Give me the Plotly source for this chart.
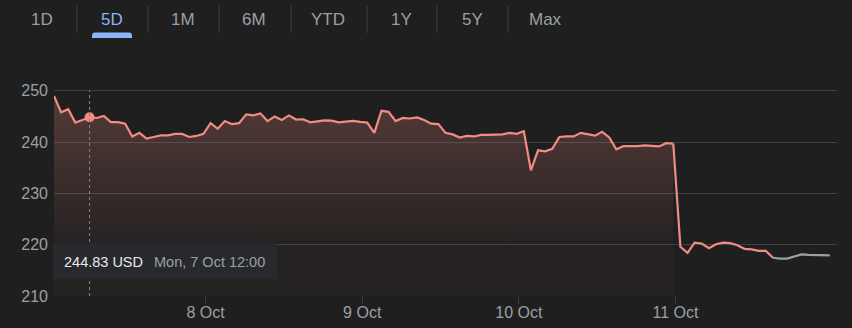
import plotly.graph_objects as go
import pandas as pd

# ---------------- data ----------------
days = ["2024-10-07", "2024-10-08", "2024-10-09", "2024-10-10", "2024-10-11"]
day_labels = ["7 Oct", "8 Oct", "9 Oct", "10 Oct", "11 Oct"]
slot_times = ["09:30", "10:00", "10:30", "11:00", "11:30", "12:00", "12:30", "13:00",
              "13:30", "14:00", "14:30", "15:00", "15:30", "16:00", "16:30", "17:00",
              "17:30", "18:00", "18:30", "19:00", "19:30", "20:00"]

oct7 = [249.0, 245.8, 246.4, 243.8, 244.3, 244.83, 244.7, 245.1, 243.9, 243.9, 243.6,
        241.1, 241.8, 240.7, 241.0, 241.3, 241.3, 241.6, 241.6, 241.0, 241.2, 241.6]
oct8 = [243.7, 242.6, 244.1, 243.5, 243.7, 245.4, 245.2, 245.6, 244.1, 245.0, 244.3,
        245.2, 244.4, 244.45, 243.86, 244.12, 244.25, 244.19, 243.86, 243.99, 244.12, 243.93]
oct9 = [243.8, 241.8, 246.1, 245.9, 244.1, 244.7, 244.6, 244.8, 244.3, 243.6, 243.5,
        241.8, 241.5, 240.9, 241.2, 241.1, 241.4, 241.4, 241.5, 241.5, 241.8, 241.6]
oct10 = [242.1, 234.5, 238.4, 238.2, 238.7, 241.0, 241.1, 241.1, 241.8, 241.5, 241.25,
         242.0, 240.9, 238.6, 239.2, 239.2, 239.2, 239.35, 239.3, 239.15, 239.8, 239.7]
oct11 = [219.6, 218.4, 220.4, 220.2, 219.3, 220.1, 220.4, 220.3, 219.9, 219.2, 219.1,
         218.8, 218.8, 217.45, 217.3, 217.3, 217.7, 218.1, 218.0, 218.0, 217.9, 217.9]

y_ticks = [210, 220, 230, 240, 250]
range_buttons = ["1D", "5D", "1M", "6M", "YTD", "1Y", "5Y", "Max"]
selected_button = "5D"
hover_time = "2024-10-07 12:00"
currency = "USD"

# ---------------- build series ----------------
series = [oct7, oct8, oct9, oct10, oct11]
stamps, values = [], []
for d, vals in zip(days, series):
    for t, v in zip(slot_times, vals):
        stamps.append(pd.Timestamp(f"{d} {t}"))
        values.append(v)
idx = list(range(len(values)))
per_day = len(slot_times)
n = len(values)

last_day_start = per_day * (len(days) - 1)
close_idx = last_day_start + slot_times.index("16:00")

RED = "#f28b82"
GREY = "#9aa0a6"
BG = "#1f1f1f"
GRID = "#3c4043"
FONT = "Liberation Sans, Arial, sans-serif"

fig = go.Figure()

# filled part (previous days)
fig.add_trace(go.Scatter(
    x=idx[:last_day_start], y=values[:last_day_start], mode="lines",
    line=dict(color=RED, width=2.2),
    fill="tozeroy",
    fillgradient=dict(type="vertical", start=220, stop=250,
                      colorscale=[[0, "rgba(242,139,130,0.03)"],
                                  [1, "rgba(242,139,130,0.26)"]]),
    hoverinfo="skip"))
# last day, regular session
fig.add_trace(go.Scatter(
    x=idx[last_day_start - 1:close_idx + 1], y=values[last_day_start - 1:close_idx + 1],
    mode="lines", line=dict(color=RED, width=2.2), hoverinfo="skip"))
# after hours
fig.add_trace(go.Scatter(
    x=idx[close_idx:], y=values[close_idx:], mode="lines",
    line=dict(color=GREY, width=2.2), hoverinfo="skip"))

# hover marker
h = stamps.index(pd.Timestamp(hover_time))
fig.add_trace(go.Scatter(x=[idx[h]], y=[values[h]], mode="markers",
                         marker=dict(color=RED, size=10), hoverinfo="skip"))

W, H = 852, 328
ML, MR, MT, MB = 54, 15, 79, 32
PW, PH = W - ML - MR, H - MT - MB


def px(xp):
    return (xp - ML) / PW


def py(yp):
    return (H - MB - yp) / PH


shapes = []
annotations = []

# hover dotted line
shapes.append(dict(type="line", xref="x", yref="y", x0=idx[h], x1=idx[h],
                   y0=min(y_ticks), y1=max(y_ticks),
                   line=dict(color="#80868b", width=1, dash="dot")))

# tooltip box
shapes.append(dict(type="rect", xref="paper", yref="paper", x0=px(53), x1=px(277),
                   y0=py(279), y1=py(243), fillcolor="#28292c", line=dict(width=0),
                   layer="above"))
annotations.append(dict(xref="paper", yref="paper", x=px(62), y=py(261.5),
                        xanchor="left", yanchor="middle", showarrow=False,
                        text=f"{values[h]:.2f} {currency}",
                        font=dict(family=FONT, size=14.5, color="#e8eaed")))
ts = stamps[h]
annotations.append(dict(xref="paper", yref="paper", x=px(152), y=py(261.5),
                        xanchor="left", yanchor="middle", showarrow=False,
                        text=f"{ts.strftime('%a')}, {ts.day} {ts.strftime('%b')} {ts.strftime('%H:%M')}",
                        font=dict(family=FONT, size=14.5, color=GREY)))

# range buttons
btn_x = [42, 112, 183, 254, 328, 401, 472, 545]
sep_x = [77, 148, 219, 291, 367, 437, 508]
for b, bx in zip(range_buttons, btn_x):
    annotations.append(dict(xref="paper", yref="paper", x=px(bx), y=py(19),
                            xanchor="center", yanchor="middle", showarrow=False, text=b,
                            font=dict(family=FONT, size=17,
                                      color="#8ab4f8" if b == selected_button else GREY)))
for sx in sep_x:
    shapes.append(dict(type="line", xref="paper", yref="paper", x0=px(sx), x1=px(sx),
                       y0=py(6), y1=py(33), line=dict(color=GRID, width=1)))
sel_x = btn_x[range_buttons.index(selected_button)]
shapes.append(dict(type="path", xref="paper", yref="paper",
                   path=(f"M {px(sel_x-20)},{py(38)} L {px(sel_x-20)},{py(35)} "
                         f"Q {px(sel_x-20)},{py(32.5)} {px(sel_x-17)},{py(32.5)} "
                         f"L {px(sel_x+17)},{py(32.5)} Q {px(sel_x+20)},{py(32.5)} {px(sel_x+20)},{py(35)} "
                         f"L {px(sel_x+20)},{py(38)} Z"),
                   fillcolor="#8ab4f8", line=dict(width=0)))

tick_pos = [per_day * k - 0.7 for k in range(1, len(days))]

fig.update_layout(
    width=W, height=H,
    margin=dict(l=ML, r=MR, t=MT, b=MB, autoexpand=False),
    paper_bgcolor=BG, plot_bgcolor=BG,
    showlegend=False, hovermode=False,
    font=dict(family=FONT, color=GREY),
    shapes=shapes, annotations=annotations,
    xaxis=dict(range=[0, n], showgrid=False, zeroline=False, showline=False,
               tickmode="array", tickvals=tick_pos, ticktext=day_labels[1:],
               ticks="outside", ticklen=7, tickcolor=GRID, tickwidth=1,
               ticklabelstandoff=-5,
               tickfont=dict(family=FONT, size=16, color=GREY),
               automargin=False, fixedrange=True),
    yaxis=dict(range=[210, 252.3], tickmode="array", tickvals=y_ticks,
               ticktext=[str(v) for v in y_ticks],
               showgrid=True, gridcolor=GRID, gridwidth=1, zeroline=False,
               showline=False, ticks="", ticklabelstandoff=5,
               tickfont=dict(family=FONT, size=16, color=GREY),
               automargin=False, fixedrange=True),
)

fig.write_html("out.html")
